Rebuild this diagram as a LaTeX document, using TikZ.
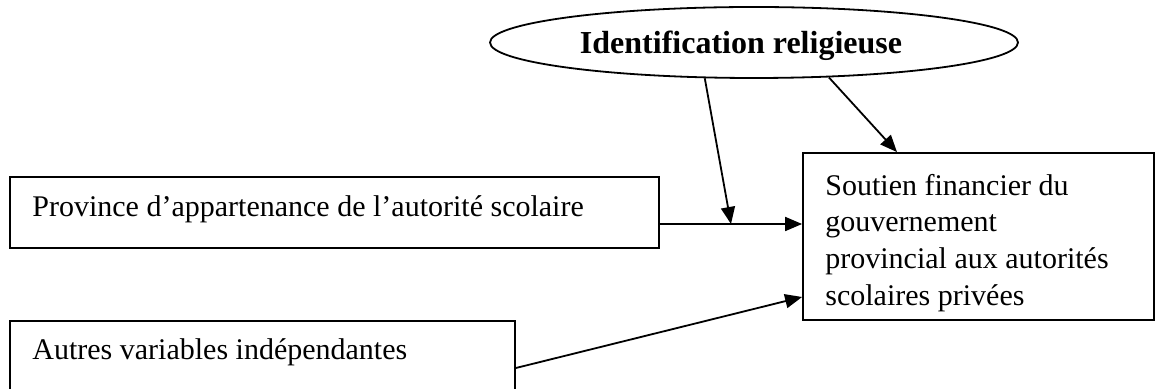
\documentclass[tikz,border=0pt]{standalone}
\usepackage{fontspec}
\setmainfont{Liberation Serif}
\usetikzlibrary{shapes.geometric,arrows.meta}
\begin{document}
\begin{tikzpicture}[x=0.5pt,y=-0.5pt,
  boxnode/.style={draw=black,line width=0.9pt,rectangle,inner sep=0pt},
  ellnode/.style={draw=black,line width=0.9pt,ellipse,inner sep=0pt},
  txt/.style={inner sep=0pt,font=\fontsize{15pt}{18.35pt}\selectfont},
  boldtxt/.style={inner sep=0pt,font=\fontsize{16pt}{19pt}\selectfont\bfseries},
  arr/.style={draw=black,line width=0.9pt,-{Triangle[length=8.5pt,width=7pt]}}]
\useasboundingbox (0,0) rectangle (1156,389);
\clip (0,0) rectangle (1156,389);
% nodes
\node[ellnode,minimum width=264pt,minimum height=35.5pt] (rel) at (754,42.5) {};
\node[boldtxt,anchor=base] (reltxt) at (741,53.5) {Identification religieuse};
\node[boxnode,minimum width=324.5pt,minimum height=35.5pt] (prov) at (334.5,212.5) {};
\node[txt,anchor=base west] (provtxt) at (32,217) {Province d’appartenance de l’autorité scolaire};
\node[boxnode,minimum width=252.5pt,minimum height=39pt] (autres) at (262.5,360) {};
\node[txt,anchor=base west] (autrestxt) at (32,360) {Autres variables indépendantes};
\node[boxnode,minimum width=175.5pt,minimum height=83.5pt] (sout) at (978.5,236.5) {};
\node[txt,anchor=north west,align=left] (souttxt) at (825,173.5) {Soutien financier du\\gouvernement\\provincial aux autorités\\scolaires privées};
% connectors
\coordinate (pa) at ([yshift=-5.75pt]prov.east);
\draw[arr] (pa) -- (pa -| sout.west) coordinate[pos=0.5] (mid);
\draw[arr] (rel.216.7) -- (mid);
\draw[arr] (rel.335) -- ([xshift=-40.75pt]sout.north);
\draw[arr] ([yshift=-4pt]autres.east) -- ([yshift=-30.25pt]sout.west);
\end{tikzpicture}
\end{document}
